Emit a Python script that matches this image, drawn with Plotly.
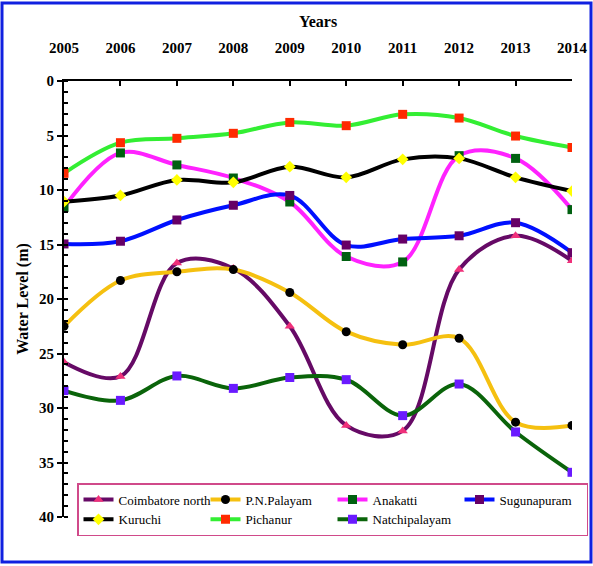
import plotly.graph_objects as go

years = [2005, 2006, 2007, 2008, 2009, 2010, 2011, 2012, 2013, 2014]

coimbatore_north = [25.8, 27.1, 16.7, 17.2, 22.5, 31.6, 32.1, 17.3, 14.2, 16.5]
pn_palayam = [22.5, 18.3, 17.5, 17.3, 19.4, 23.0, 24.2, 23.6, 31.3, 31.6]
anakatti = [11.6, 6.6, 7.7, 8.9, 11.1, 16.1, 16.6, 6.85, 7.1, 11.8]
sugunapuram = [14.95, 14.7, 12.75, 11.4, 10.5, 15.05, 14.5, 14.2, 13.0, 15.75]
kuruchi = [11.07, 10.5, 9.08, 9.3, 7.86, 8.84, 7.19, 7.1, 8.84, 10.1]
pichanur = [8.47, 5.66, 5.26, 4.8, 3.8, 4.1, 3.06, 3.4, 5.05, 6.1]
natchipalayam = [28.4, 29.3, 27.06, 28.2, 27.2, 27.4, 30.7, 27.8, 32.2, 35.9]

series = [
    ("Coimbatore north", coimbatore_north, "#660a66", "triangle-up", "#f0307a"),
    ("P.N.Palayam", pn_palayam, "#f5c010", "circle", "#000000"),
    ("Anakatti", anakatti, "#ff22ff", "square", "#006010"),
    ("Sugunapuram", sugunapuram, "#0010ff", "square", "#660066"),
    ("Kuruchi", kuruchi, "#000000", "diamond", "#ffff00"),
    ("Pichanur", pichanur, "#33ee33", "square", "#ff2a00"),
    ("Natchipalayam", natchipalayam, "#0a640a", "square", "#6a1aff"),
]

SERIF = "Liberation Serif, Times New Roman, serif"

fig = go.Figure()
for name, vals, lc, sym, mc in series:
    fig.add_trace(go.Scatter(
        x=years, y=vals, name=name, mode="lines+markers",
        line=dict(color=lc, width=4, shape="spline", smoothing=1.0),
        marker=dict(symbol=sym, color=mc, size=9, line=dict(width=0)),
    ))

W, H = 593, 566
L, R, T, B = 64, 21, 81, 49
pw, ph = W - L - R, H - T - B

def px(x):
    return (x - L) / pw

def py(y):
    return (H - B - y) / ph

fig.update_layout(
    width=W, height=H,
    margin=dict(l=L, r=R, t=T, b=B, autoexpand=False),
    paper_bgcolor="white", plot_bgcolor="white",
    font=dict(family=SERIF, color="black"),
    xaxis=dict(
        side="top", range=[2005, 2014], tickvals=years,
        ticktext=[str(y) for y in years],
        tickfont=dict(size=15, family=SERIF, weight="bold"),
        ticks="inside", ticklen=5, tickwidth=1.5, tickcolor="black",
        showline=True, linecolor="black", linewidth=2,
        showgrid=False, zeroline=False, ticklabelstandoff=20,
        automargin=False,
        title=dict(text="<b>Years</b>", font=dict(size=16, family=SERIF), standoff=8),
    ),
    yaxis=dict(
        range=[40, 0], tickvals=[0, 5, 10, 15, 20, 25, 30, 35, 40],
        tickfont=dict(size=15, family=SERIF, weight="bold"),
        ticks="outside", ticklen=5, tickwidth=1.5, tickcolor="black",
        minor=dict(dtick=1, ticks="inside", ticklen=4, tickcolor="black", tickwidth=1.5),
        showline=True, linecolor="black", linewidth=2,
        showgrid=False, zeroline=False, automargin=False,
        title=dict(text="<b>Water Level (m)</b>", font=dict(size=16, family=SERIF), standoff=6),
    ),
    legend=dict(
        orientation="h", x=px(77), y=py(483), xanchor="left", yanchor="top",
        bgcolor="white", bordercolor="#d04a8a", borderwidth=1.5,
        font=dict(size=13, family=SERIF, color="black"),
        entrywidth=82, entrywidthmode="pixels", itemwidth=30,
        tracegroupgap=0,
    ),
    shapes=[dict(
        type="rect", xref="paper", yref="paper",
        x0=px(2), x1=px(591), y0=py(562), y1=py(3),
        line=dict(color="#1020e0", width=3), fillcolor="rgba(0,0,0,0)",
        layer="below",
    )],
    showlegend=True,
)

fig.write_html(
    "out.html",
    config={"displayModeBar": False},
    post_script="document.body.style.margin='0';document.body.style.overflow='hidden';",
)
